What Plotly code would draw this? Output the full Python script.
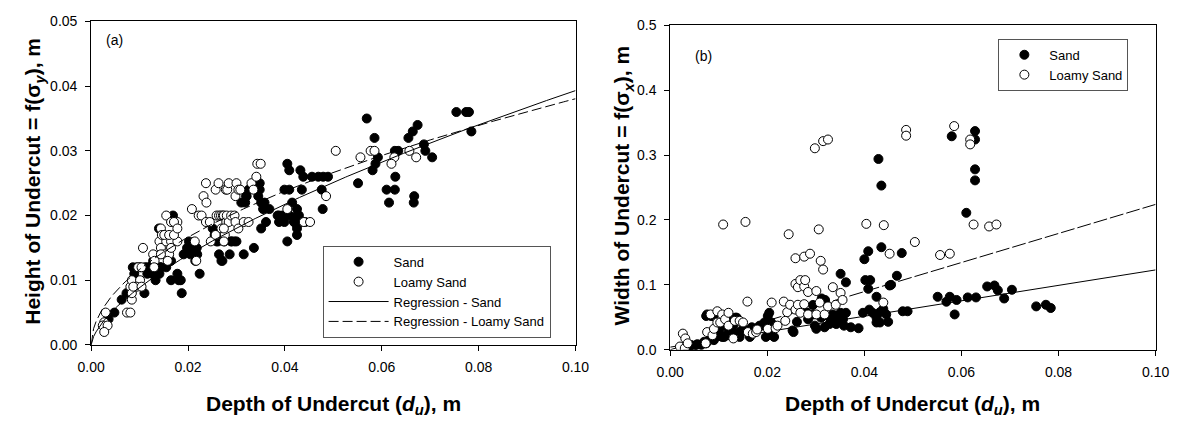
import numpy as np
import plotly.graph_objects as go

# ---------------- Panel (a): Height of undercut ----------------
xa_sand = [0.0036, 0.0048, 0.0063, 0.0073, 0.0083, 0.0083, 0.0110, 0.0086, 0.0089, 0.0094,
           0.0101, 0.0111, 0.0116, 0.0116, 0.0121, 0.0126, 0.0128, 0.0131, 0.0133, 0.0134,
           0.0141, 0.0143, 0.0136, 0.0144, 0.0140, 0.0155, 0.0165, 0.0165, 0.0169, 0.0178,
           0.0181, 0.0185, 0.0187, 0.0191, 0.0198, 0.0202, 0.0205, 0.0212, 0.0215, 0.0218,
           0.0219, 0.0224, 0.0251, 0.0255, 0.0259, 0.0262, 0.0264, 0.0269, 0.0271, 0.0275,
           0.0286, 0.0289, 0.0290, 0.0296, 0.0300, 0.0315, 0.0336, 0.0310, 0.0320, 0.0318,
           0.0321, 0.0325, 0.0345, 0.0348, 0.0348, 0.0351, 0.0358, 0.0355, 0.0368, 0.0361,
           0.0351, 0.0385, 0.0388, 0.0388, 0.0395, 0.0399, 0.0399, 0.0405, 0.0409, 0.0409,
           0.0415, 0.0419, 0.0419, 0.0425, 0.0425, 0.0429, 0.0425, 0.0425, 0.0432, 0.0442,
           0.0435, 0.0476, 0.0478, 0.0405, 0.0409, 0.0432, 0.0438, 0.0456, 0.0469, 0.0479,
           0.0489, 0.0551, 0.0569, 0.0585, 0.0581, 0.0587, 0.0592, 0.0610, 0.0615, 0.0627,
           0.0627, 0.0628, 0.0634, 0.0655, 0.0664, 0.0666, 0.0667, 0.0674, 0.0687, 0.0690,
           0.0704, 0.0754, 0.0774, 0.0780, 0.0785]
ya_sand = [0.004, 0.005, 0.007, 0.008, 0.008, 0.009, 0.008, 0.012, 0.011, 0.012,
           0.012, 0.012, 0.011, 0.012, 0.012, 0.011, 0.013, 0.011, 0.010, 0.012,
           0.011, 0.012, 0.011, 0.012, 0.018, 0.012, 0.013, 0.010, 0.020, 0.011,
           0.010, 0.010, 0.008, 0.014, 0.015, 0.016, 0.014, 0.015, 0.013, 0.015,
           0.014, 0.011, 0.018, 0.017, 0.016, 0.016, 0.014, 0.013, 0.013, 0.016,
           0.014, 0.016, 0.016, 0.016, 0.016, 0.014, 0.015, 0.022, 0.023, 0.022,
           0.023, 0.024, 0.023, 0.025, 0.024, 0.022, 0.022, 0.021, 0.021, 0.019,
           0.018, 0.020, 0.019, 0.020, 0.020, 0.019, 0.024, 0.016, 0.020, 0.024,
           0.022, 0.019, 0.019, 0.020, 0.021, 0.020, 0.018, 0.017, 0.019, 0.019,
           0.024, 0.024, 0.021, 0.028, 0.027, 0.027, 0.026, 0.026, 0.026, 0.026,
           0.026, 0.025, 0.035, 0.032, 0.027, 0.028, 0.029, 0.024, 0.022, 0.024,
           0.030, 0.026, 0.030, 0.032, 0.033, 0.022, 0.023, 0.034, 0.031, 0.030,
           0.029, 0.036, 0.036, 0.036, 0.033]

xa_loamy = [0.0027, 0.0024, 0.0034, 0.0027, 0.0030, 0.0074, 0.0081, 0.0084, 0.0081, 0.0084,
            0.0084, 0.0101, 0.0094, 0.0087, 0.0104, 0.0097, 0.0104, 0.0107, 0.0128, 0.0131,
            0.0130, 0.0141, 0.0144, 0.0151, 0.0161, 0.0144, 0.0155, 0.0165, 0.0178, 0.0165,
            0.0158, 0.0144, 0.0146, 0.0151, 0.0161, 0.0171, 0.0155, 0.0165, 0.0178, 0.0171,
            0.0178, 0.0214, 0.0217, 0.0208, 0.0222, 0.0228, 0.0232, 0.0238, 0.0237, 0.0237,
            0.0245, 0.0247, 0.0257, 0.0257, 0.0259, 0.0263, 0.0264, 0.0268, 0.0269, 0.0272,
            0.0274, 0.0276, 0.0278, 0.0279, 0.0280, 0.0281, 0.0284, 0.0284, 0.0289, 0.0296,
            0.0298, 0.0298, 0.0300, 0.0304, 0.0304, 0.0274, 0.0274, 0.0308, 0.0315, 0.0325,
            0.0331, 0.0335, 0.0341, 0.0343, 0.0350, 0.0405, 0.0439, 0.0452, 0.0485, 0.0505,
            0.0556, 0.0577, 0.0585, 0.0626, 0.0620, 0.0657, 0.0671]
ya_loamy = [0.0035, 0.003, 0.003, 0.002, 0.005, 0.005, 0.005, 0.007, 0.009, 0.008,
            0.010, 0.010, 0.009, 0.009, 0.009, 0.012, 0.012, 0.015, 0.014, 0.013,
            0.012, 0.016, 0.015, 0.014, 0.014, 0.014, 0.016, 0.016, 0.016, 0.015,
            0.013, 0.018, 0.017, 0.017, 0.017, 0.017, 0.020, 0.019, 0.019, 0.019,
            0.018, 0.016, 0.013, 0.021, 0.020, 0.020, 0.023, 0.022, 0.025, 0.019,
            0.019, 0.016, 0.024, 0.017, 0.020, 0.025, 0.020, 0.020, 0.018, 0.020,
            0.020, 0.017, 0.024, 0.019, 0.020, 0.024, 0.025, 0.019, 0.020, 0.020,
            0.023, 0.019, 0.025, 0.024, 0.018, 0.018, 0.016, 0.024, 0.019, 0.019,
            0.025, 0.024, 0.026, 0.028, 0.028, 0.021, 0.019, 0.019, 0.023, 0.030,
            0.029, 0.030, 0.030, 0.029, 0.028, 0.030, 0.029]

# power-law regressions y = a * x^b  (panel a)
reg_a_sand = (0.174, 0.646)
reg_a_loamy = (0.124, 0.513)

# ---------------- Panel (b): Width of undercut ----------------
xb_sand = [0.0025, 0.0037, 0.0043, 0.0047, 0.0054, 0.0056, 0.0064, 0.0070, 0.0074, 0.0074,
           0.0076, 0.0080, 0.0084, 0.0089, 0.0090, 0.0094, 0.0101, 0.0107, 0.0111, 0.0111,
           0.0117, 0.0117, 0.0120, 0.0127, 0.0130, 0.0131, 0.0134, 0.0137, 0.0143, 0.0144,
           0.0150, 0.0158, 0.0164, 0.0168, 0.0178, 0.0184, 0.0188, 0.0194, 0.0197, 0.0201,
           0.0201, 0.0204, 0.0204, 0.0208, 0.0214, 0.0252, 0.0254, 0.0261, 0.0282, 0.0284,
           0.0294, 0.0295, 0.0298, 0.0301, 0.0311, 0.0312, 0.0315, 0.0318, 0.0319, 0.0328,
           0.0329, 0.0335, 0.0335, 0.0342, 0.0342, 0.0345, 0.0351, 0.0351, 0.0352, 0.0355,
           0.0356, 0.0358, 0.0362, 0.0362, 0.0372, 0.0388, 0.0397, 0.0400, 0.0402, 0.0408,
           0.0408, 0.0410, 0.0412, 0.0417, 0.0425, 0.0425, 0.0425, 0.0429, 0.0432, 0.0432,
           0.0435, 0.0435, 0.0439, 0.0445, 0.0449, 0.0452, 0.0455, 0.0467, 0.0477, 0.0479,
           0.0489, 0.0551, 0.0569, 0.0576, 0.0580, 0.0586, 0.0590, 0.0610, 0.0613, 0.0628,
           0.0628, 0.0628, 0.0628, 0.0630, 0.0653, 0.0668, 0.0675, 0.0688, 0.0704, 0.0754,
           0.0774, 0.0784]
yb_sand = [0.004, 0.0025, 0.0074, 0.0049, 0.0074, 0.0085, 0.0074, 0.0123, 0.0099, 0.052,
           0.0544, 0.0148, 0.052, 0.052, 0.0148, 0.0197, 0.0272, 0.0197, 0.0197, 0.0371,
           0.0223, 0.047, 0.0322, 0.0445, 0.0371, 0.0248, 0.0494, 0.0494, 0.0197, 0.0272,
           0.0322, 0.0297, 0.0197, 0.0346, 0.0322, 0.0371, 0.0371, 0.042, 0.0197, 0.0371,
           0.052, 0.0272, 0.0569, 0.042, 0.0197, 0.0297, 0.0272, 0.043, 0.057, 0.047,
           0.069, 0.0544, 0.0371, 0.0322, 0.0494, 0.079, 0.052, 0.0346, 0.0767, 0.0396,
           0.0494, 0.0544, 0.0445, 0.052, 0.0396, 0.0494, 0.0569, 0.117, 0.052, 0.0544,
           0.047, 0.0371, 0.1039, 0.0569, 0.0346, 0.0331, 0.0569, 0.1395, 0.1073, 0.1518,
           0.0939, 0.0618, 0.1073, 0.0569, 0.0816, 0.0494, 0.042, 0.294, 0.0579, 0.042,
           0.253, 0.158, 0.0628, 0.0544, 0.043, 0.099, 0.100, 0.114, 0.149, 0.0593,
           0.0593, 0.0816, 0.074, 0.0816, 0.329, 0.0544, 0.0767, 0.211, 0.0806, 0.337,
           0.324, 0.278, 0.261, 0.0806, 0.0975, 0.099, 0.0915, 0.079, 0.0924, 0.0668,
           0.0693, 0.0643]

xb_loamy = [0.0020, 0.0026, 0.0030, 0.0031, 0.0036, 0.0073, 0.0076, 0.0083, 0.0087, 0.0090,
            0.0097, 0.0097, 0.0103, 0.0107, 0.0109, 0.0113, 0.0120, 0.0120, 0.0130, 0.0133,
            0.0143, 0.0150, 0.0155, 0.0159, 0.0160, 0.0170, 0.0177, 0.0179, 0.0201, 0.0209,
            0.0217, 0.0221, 0.0234, 0.0237, 0.0241, 0.0244, 0.0247, 0.0258, 0.0258, 0.0258,
            0.0263, 0.0263, 0.0268, 0.0268, 0.0276, 0.0276, 0.0276, 0.0278, 0.0284, 0.0284,
            0.0288, 0.0298, 0.0301, 0.0301, 0.0306, 0.0308, 0.0310, 0.0315, 0.0315, 0.0318,
            0.0325, 0.0325, 0.0335, 0.0341, 0.0351, 0.0355, 0.0404, 0.0439, 0.0440, 0.0452,
            0.0486, 0.0486, 0.0504, 0.0556, 0.0576, 0.0585, 0.0618, 0.0618, 0.0625, 0.0657,
            0.0672]
yb_loamy = [0.0049, 0.0248, 0.0025, 0.0174, 0.0099, 0.0099, 0.0272, 0.0544, 0.0223, 0.0322,
            0.0593, 0.042, 0.042, 0.0544, 0.193, 0.047, 0.0569, 0.0371, 0.0174, 0.0445,
            0.0445, 0.042, 0.197, 0.0742, 0.0272, 0.0248, 0.0272, 0.0312, 0.0322, 0.0727,
            0.0331, 0.0371, 0.0742, 0.0445, 0.0579, 0.178, 0.0693, 0.141, 0.1014, 0.0618,
            0.0964, 0.0693, 0.1073, 0.0569, 0.1435, 0.0975, 0.0702, 0.1073, 0.089, 0.0544,
            0.148, 0.3105, 0.0905, 0.0544, 0.1855, 0.0727, 0.137, 0.1236, 0.3215, 0.0544,
            0.324, 0.0668, 0.0964, 0.0693, 0.0875, 0.0767, 0.194, 0.0727, 0.192, 0.148,
            0.3388, 0.3299, 0.166, 0.146, 0.148, 0.3447, 0.324, 0.3165, 0.193, 0.190,
            0.193]

# linear regressions y = c0 + c1 * x  (panel b)
reg_b_sand = (0.004, 1.19)
reg_b_loamy = (0.0, 2.24)

x_ticks = [0.00, 0.02, 0.04, 0.06, 0.08, 0.10]
ya_ticks = [0.00, 0.01, 0.02, 0.03, 0.04, 0.05]
yb_ticks = [0.0, 0.1, 0.2, 0.3, 0.4, 0.5]

W, H = 1194, 428
FONT = "Arial, Liberation Sans, sans-serif"

xa_fit = np.linspace(0.0, 0.1, 201)
xb_fit = np.linspace(0.0, 0.1, 51)

fig = go.Figure()

filled = dict(color="black", size=9, line=dict(color="black", width=1))
hollow = dict(color="white", size=9, line=dict(color="black", width=1))

fig.add_trace(go.Scatter(x=xa_sand, y=ya_sand, mode="markers", name="Sand",
                         marker=filled, xaxis="x", yaxis="y", legend="legend"))
fig.add_trace(go.Scatter(x=xa_loamy, y=ya_loamy, mode="markers", name="Loamy Sand",
                         marker=hollow, xaxis="x", yaxis="y", legend="legend"))
fig.add_trace(go.Scatter(x=xa_fit, y=reg_a_sand[0] * xa_fit ** reg_a_sand[1], mode="lines",
                         name="Regression - Sand", line=dict(color="black", width=1),
                         xaxis="x", yaxis="y", legend="legend"))
fig.add_trace(go.Scatter(x=xa_fit, y=reg_a_loamy[0] * xa_fit ** reg_a_loamy[1], mode="lines",
                         name="Regression - Loamy Sand",
                         line=dict(color="black", width=1, dash="10px,4px"),
                         xaxis="x", yaxis="y", legend="legend"))

fig.add_trace(go.Scatter(x=xb_fit, y=reg_b_sand[0] + reg_b_sand[1] * xb_fit, mode="lines",
                         line=dict(color="black", width=1), showlegend=False,
                         xaxis="x2", yaxis="y2"))
fig.add_trace(go.Scatter(x=xb_fit, y=reg_b_loamy[0] + reg_b_loamy[1] * xb_fit, mode="lines",
                         line=dict(color="black", width=1, dash="14px,3px"), showlegend=False,
                         xaxis="x2", yaxis="y2"))
fig.add_trace(go.Scatter(x=xb_sand, y=yb_sand, mode="markers", name="Sand",
                         marker=filled, xaxis="x2", yaxis="y2", legend="legend2"))
fig.add_trace(go.Scatter(x=xb_loamy, y=yb_loamy, mode="markers", name="Loamy Sand",
                         marker=hollow, xaxis="x2", yaxis="y2", legend="legend2"))

axis_common = dict(showgrid=False, zeroline=False, showline=True, linecolor="black",
                   linewidth=1, mirror=True, ticks="outside", ticklen=5, tickwidth=1,
                   tickcolor="black", tickfont=dict(family=FONT, size=14, color="black"))

def px_x(p):
    return p / W

def px_y(p):
    return (H - p) / H

fig.update_layout(
    width=W, height=H,
    margin=dict(l=0, r=0, t=0, b=0),
    paper_bgcolor="white", plot_bgcolor="white",
    font=dict(family=FONT, color="black"),
    xaxis=dict(domain=[px_x(79), px_x(575)], range=[0, 0.1], tickvals=x_ticks,
               tickformat=".2f", anchor="y", ticklabelstandoff=4, **axis_common),
    yaxis=dict(domain=[px_y(350), px_y(14)], range=[0, 0.05], tickvals=ya_ticks,
               tickformat=".2f", anchor="x", ticklabelstandoff=5, **axis_common),
    xaxis2=dict(domain=[px_x(672), px_x(1169)], range=[0, 0.1], tickvals=x_ticks,
                tickformat=".2f", anchor="y2", ticklabelstandoff=4, **axis_common),
    yaxis2=dict(domain=[px_y(355), px_y(18)], range=[0, 0.5], tickvals=yb_ticks,
                tickformat=".1f", anchor="x2", ticklabelstandoff=5, **axis_common),
    legend=dict(x=px_x(316), y=px_y(247), xanchor="left", yanchor="top",
                bgcolor="white", bordercolor="#555", borderwidth=1,
                font=dict(family=FONT, size=13, color="black"), itemwidth=60,
                tracegroupgap=0),
    legend2=dict(x=px_x(1008), y=px_y(32), xanchor="left", yanchor="top",
                 bgcolor="white", bordercolor="#555", borderwidth=1,
                 font=dict(family=FONT, size=13, color="black"), itemwidth=40,
                 tracegroupgap=0),
    showlegend=True,
)

title_font = dict(family=FONT, size=21, color="black")
annotations = [
    dict(text="<b>Depth of Undercut (<i>d</i><sub><i>u</i></sub>), m</b>",
         x=px_x(327), y=px_y(412), xref="paper", yref="paper", showarrow=False,
         xanchor="center", yanchor="middle", font=title_font),
    dict(text="<b>Depth of Undercut (<i>d</i><sub><i>u</i></sub>), m</b>",
         x=px_x(920), y=px_y(412), xref="paper", yref="paper", showarrow=False,
         xanchor="center", yanchor="middle", font=title_font),
    dict(text="<b>Height of Undercut = f(σ<sub><i>y</i></sub>), m</b>",
         x=px_x(21), y=px_y(180), xref="paper", yref="paper", showarrow=False,
         xanchor="center", yanchor="middle", textangle=-90, font=title_font),
    dict(text="<b>Width of Undercut = f(σ<sub><i>x</i></sub>), m</b>",
         x=px_x(624), y=px_y(184), xref="paper", yref="paper", showarrow=False,
         xanchor="center", yanchor="middle", textangle=-90, font=title_font),
    dict(text="(a)", x=px_x(92), y=px_y(33), xref="paper", yref="paper", showarrow=False,
         xanchor="left", yanchor="middle", font=dict(family=FONT, size=14, color="black")),
    dict(text="(b)", x=px_x(695), y=px_y(50), xref="paper", yref="paper", showarrow=False,
         xanchor="left", yanchor="middle", font=dict(family=FONT, size=14, color="black")),
]
fig.update_layout(annotations=annotations)

fig.write_html("out.html")
